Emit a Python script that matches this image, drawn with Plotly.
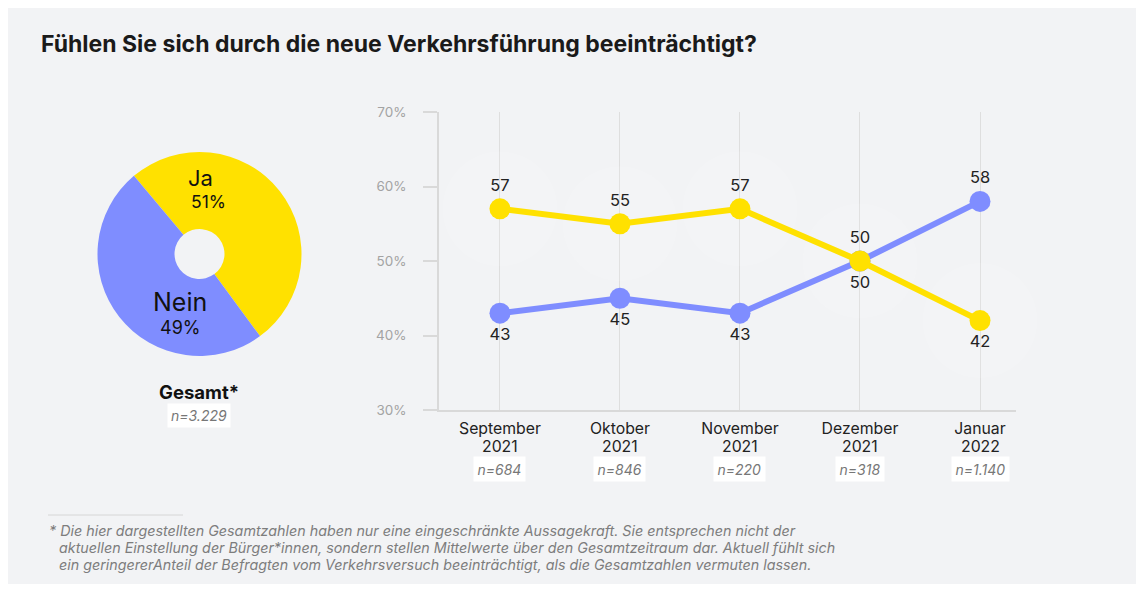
import plotly.graph_objects as go

# ---- data ----
month_names = ["September", "Oktober", "November", "Dezember", "Januar"]
years = ["2021", "2021", "2021", "2021", "2022"]
sample_sizes = ["n=684", "n=846", "n=220", "n=318", "n=1.140"]
ja_values = [57, 55, 57, 50, 42]
nein_values = [43, 45, 43, 50, 58]
pie_labels = ["Ja", "Nein"]
pie_values = [51, 49]
y_ticks = [30, 40, 50, 60, 70]
y_ticktext = ["30%", "40%", "50%", "60%", "70%"]
footnote_lines = [
    "* Die hier dargestellten Gesamtzahlen haben nur eine eingeschränkte Aussagekraft. Sie entsprechen nicht der",
    "aktuellen Einstellung der Bürger*innen, sondern stellen Mittelwerte über den Gesamtzeitraum dar. Aktuell fühlt sich",
    "ein geringererAnteil der Befragten vom Verkehrsversuch beeinträchtigt, als die Gesamtzahlen vermuten lassen.",
]

# page is 1144x592, body has default 8px margin -> figure 1128x576 at (8,8)
W, H = 1128, 576
OFF = 8
YELLOW = "#FFE100"
BLUE = "#7F8DFF"
FONT = "Inter"


def px(x):
    return (x - OFF) / W


def py(y):
    return 1 - (y - OFF) / H


xs = list(range(len(month_names)))

fig = go.Figure()

# donut
fig.add_trace(go.Pie(
    labels=pie_labels, values=pie_values, hole=0.245, sort=False,
    direction="clockwise", rotation=-40,
    marker=dict(colors=[YELLOW, BLUE], line=dict(width=0)),
    textinfo="none", hoverinfo="label+percent", showlegend=False,
    domain=dict(x=[px(97), px(302)], y=[py(356), py(152)]),
))

# very faint halos behind points
fig.add_trace(go.Scatter(
    x=xs, y=ja_values, mode="markers",
    marker=dict(size=115, color="rgba(255,255,255,0.10)", line=dict(width=0)),
    hoverinfo="skip", showlegend=False, cliponaxis=False,
))

# lines
fig.add_trace(go.Scatter(
    x=xs, y=nein_values, mode="lines+markers+text",
    line=dict(color=BLUE, width=6), marker=dict(size=21, color=BLUE),
    text=[str(v) for v in nein_values],
    textposition=["bottom center", "bottom center", "bottom center", "bottom center", "top center"],
    textfont=dict(size=16.5, color="#222222", family=FONT),
    showlegend=False, name="Nein", cliponaxis=False,
))
fig.add_trace(go.Scatter(
    x=xs, y=ja_values, mode="lines+markers+text",
    line=dict(color=YELLOW, width=6), marker=dict(size=21, color=YELLOW),
    text=[str(v) for v in ja_values],
    textposition=["top center", "top center", "top center", "top center", "bottom center"],
    textfont=dict(size=16.5, color="#222222", family=FONT),
    showlegend=False, name="Ja", cliponaxis=False,
))

annotations = [
    dict(text="<b>Fühlen Sie sich durch die neue Verkehrsführung beeinträchtigt?</b>",
         x=px(39), y=py(44), xanchor="left",
         font=dict(size=23, color="#1a1a1a", family=FONT)),
    dict(text="Ja", x=px(200), y=py(178), font=dict(size=22, color="#111", family=FONT)),
    dict(text="51%", x=px(208), y=py(201), font=dict(size=17.5, color="#111", family=FONT)),
    dict(text="Nein", x=px(180), y=py(302), font=dict(size=25, color="#111", family=FONT)),
    dict(text="49%", x=px(180), y=py(327), font=dict(size=18, color="#111", family=FONT)),
    dict(text="<b>Gesamt*</b>", x=px(199), y=py(392), font=dict(size=18.5, color="#111", family=FONT)),
    dict(text="<i>n=3.229</i>", x=px(199), y=py(415), bgcolor="white", borderpad=3,
         font=dict(size=14, color="#777", family=FONT)),
]
foot_x = [47, 57, 57]
foot_y = [531, 548, 565]
for t, fx, fy in zip(footnote_lines, foot_x, foot_y):
    annotations.append(dict(text=f"<i>{t}</i>", x=px(fx), y=py(fy), xanchor="left",
                            font=dict(size=14.3, color="#7d7d7d", family=FONT)))
for i in xs:
    annotations.append(dict(text=years[i], x=xs[i], xref="x", y=py(446), yref="paper",
                            font=dict(size=15.8, color="#222", family=FONT)))
    annotations.append(dict(text=f"<i>{sample_sizes[i]}</i>", x=xs[i], xref="x", y=py(469), yref="paper",
                            bgcolor="white", borderpad=3.5,
                            font=dict(size=14, color="#777", family=FONT)))
for a in annotations:
    a.setdefault("xref", "paper")
    a.setdefault("yref", "paper")
    a.setdefault("xanchor", "center")
    a.setdefault("yanchor", "middle")
    a.setdefault("showarrow", False)

shapes = [
    dict(type="rect", xref="paper", yref="paper", x0=px(8), x1=px(1141), y0=0, y1=py(7),
         fillcolor="#f2f3f5", line=dict(width=0), layer="below"),
    dict(type="line", xref="paper", yref="paper", x0=px(48), x1=px(183), y0=py(515), y1=py(515),
         line=dict(color="#d6d6d6", width=1)),
]

fig.update_layout(
    width=W, height=H,
    margin=dict(l=0, r=0, t=0, b=0, autoexpand=False),
    paper_bgcolor="white", plot_bgcolor="rgba(0,0,0,0)",
    font=dict(family=FONT),
    xaxis=dict(domain=[px(439), px(1016)], range=[-0.508, 4.3],
               tickvals=xs, ticktext=month_names, showgrid=True, gridcolor="#dedede", gridwidth=1,
               showline=True, linecolor="#d9d9d9", linewidth=2, zeroline=False,
               ticks="", ticklabelstandoff=3,
               tickfont=dict(size=15.8, color="#222", family=FONT), fixedrange=True),
    yaxis=dict(domain=[py(410), py(112)], range=[30, 70],
               tickvals=y_ticks, ticktext=y_ticktext, showgrid=False,
               showline=True, linecolor="#d9d9d9", linewidth=1.5, zeroline=False,
               ticks="outside", ticklen=14, tickcolor="#d9d9d9", tickwidth=1.5,
               ticklabelstandoff=14,
               tickfont=dict(size=13.5, color="#a3a3a3", family=FONT), fixedrange=True),
    annotations=annotations,
    shapes=shapes,
)

fig.write_html("out.html", config={"displayModeBar": False})
